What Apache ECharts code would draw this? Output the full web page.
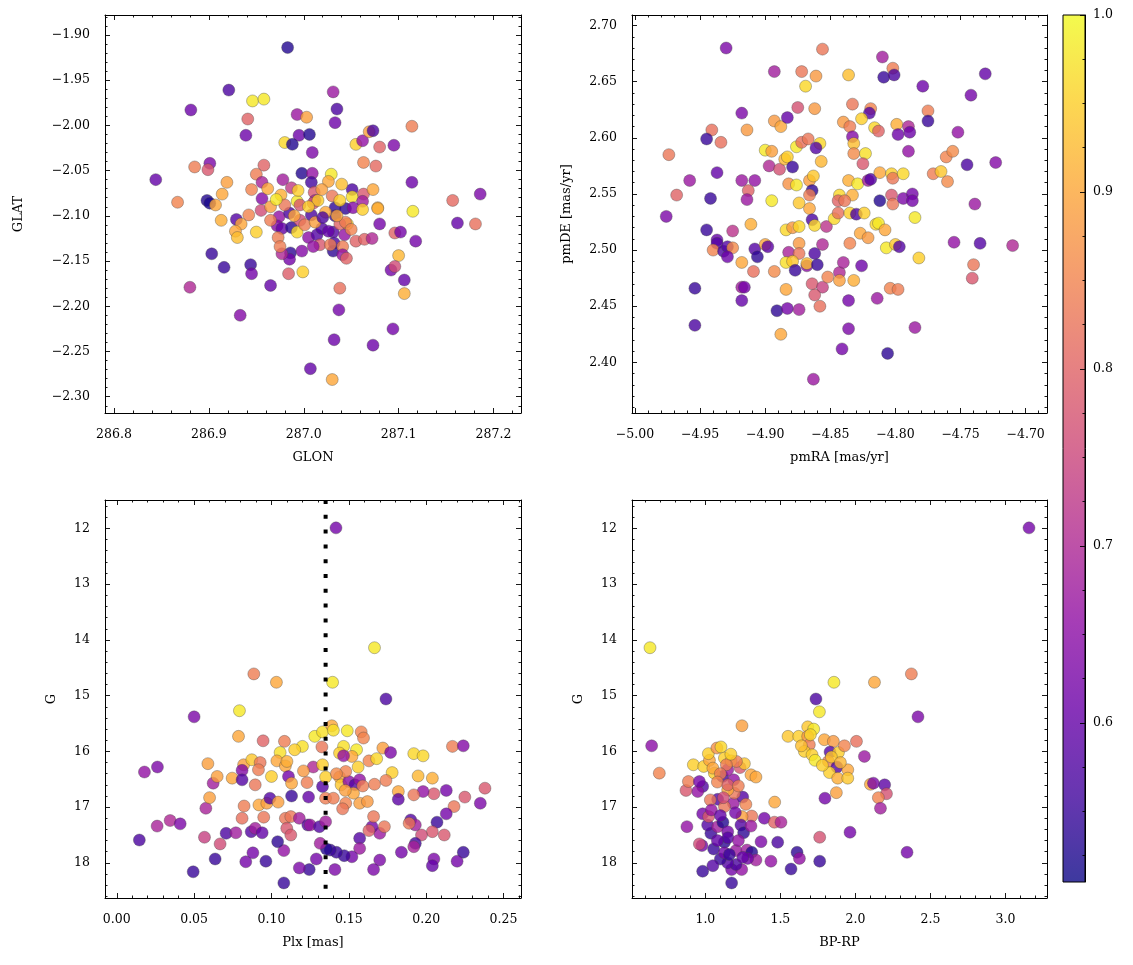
<!DOCTYPE html>
<html><head><meta charset="utf-8">
<script src="https://cdn.jsdelivr.net/npm/echarts@6/dist/echarts.min.js"></script>
<style>html,body{margin:0;padding:0;background:#fff}#c{width:1133px;height:965px}</style>
</head><body><div id="c"></div>
<script>
// ---------------- data: [x, y, membership probability] ----------------
const skyPos = [
[286.983,-1.914,.53],[286.921,-1.961,.57],[286.946,-1.973,.98],[286.958,-1.971,.98],[287.031,-1.963,.67],[286.881,-1.983,.61],[287.035,-1.982,.57],[287.033,-1.997,.61],[286.941,-1.993,.80],[286.993,-1.988,.67],[287.003,-1.991,.89],[286.939,-2.011,.61],[286.995,-2.011,.61],[287.006,-2.010,.53],[286.980,-2.019,.96],[286.988,-2.021,.53],[287.009,-2.030,.63],[287.114,-2.001,.84],[287.055,-2.021,.95],[287.062,-2.017,.66],[287.069,-2.007,.89],[287.073,-2.006,.57],[287.080,-2.024,.80],[287.095,-2.022,.63],[286.901,-2.042,.63],[286.899,-2.049,.78],[286.885,-2.046,.84],[286.958,-2.044,.80],[286.950,-2.054,.84],[287.063,-2.041,.85],[287.076,-2.045,.81],[286.844,-2.060,.60],[286.919,-2.063,.89],[286.945,-2.071,.85],[286.956,-2.063,.69],[286.978,-2.060,.68],[286.998,-2.053,.53],[287.009,-2.053,.66],[287.008,-2.063,.56],[287.029,-2.054,.98],[287.026,-2.062,.90],[287.114,-2.063,.61],[286.914,-2.076,.90],[286.867,-2.085,.85],[286.898,-2.083,.53],[286.901,-2.086,.52],[286.907,-2.088,.90],[286.956,-2.081,.64],[286.976,-2.077,.91],[286.987,-2.069,.73],[286.993,-2.084,.98],[287.011,-2.074,.78],[287.012,-2.083,.68],[287.030,-2.078,.83],[287.051,-2.071,.57],[287.051,-2.079,.97],[287.063,-2.076,.78],[287.062,-2.084,.68],[287.073,-2.071,.90],[287.078,-2.091,.91],[287.157,-2.083,.81],[287.186,-2.076,.63],[287.115,-2.095,.98],[287.033,-2.091,.54],[287.044,-2.092,.54],
[286.913,-2.105,.91],[286.929,-2.104,.58],[286.934,-2.109,.90],[286.942,-2.099,.85],[286.928,-2.117,.90],[286.930,-2.124,.93],[286.955,-2.094,.76],[286.965,-2.090,.89],[286.974,-2.101,.66],[286.985,-2.097,.57],[286.972,-2.111,.64],[286.977,-2.114,.60],[286.987,-2.113,.54],[286.993,-2.118,.96],[286.973,-2.124,.84],[286.996,-2.105,.76],[287.008,-2.099,.57],[287.010,-2.086,.78],[287.005,-2.124,.65],[287.014,-2.121,.58],[287.019,-2.114,.58],[287.031,-2.118,.58],[287.033,-2.100,.55],[287.052,-2.091,.64],[287.046,-2.109,.95],[287.043,-2.121,.66],[287.038,-2.109,.80],[287.017,-2.132,.78],[287.010,-2.134,.66],[287.032,-2.130,.57],[287.031,-2.139,.54],[287.041,-2.134,.84],[287.041,-2.143,.66],[287.045,-2.147,.80],[287.062,-2.093,.95],[287.078,-2.092,.91],[287.080,-2.109,.62],[287.055,-2.128,.80],[287.064,-2.126,.80],[287.072,-2.125,.70],[287.096,-2.119,.80],[287.102,-2.118,.62],[287.118,-2.128,.62],[287.100,-2.144,.92],[287.162,-2.108,.60],[287.181,-2.109,.82],[286.986,-2.141,.54],[286.985,-2.148,.62],[286.977,-2.142,.70],[286.975,-2.134,.84],[286.998,-2.139,.64],[286.903,-2.142,.55],[286.916,-2.157,.55],[286.944,-2.154,.55],[286.945,-2.164,.62],[286.965,-2.177,.60],[286.984,-2.164,.79],[286.999,-2.162,.95],[286.880,-2.179,.70],[286.933,-2.210,.64],[287.038,-2.180,.82],[287.037,-2.204,.62],[287.032,-2.237,.61],[287.007,-2.269,.60],[287.030,-2.281,.90],[287.073,-2.243,.61],[287.094,-2.225,.62],[287.092,-2.160,.62],[287.096,-2.156,.76],[287.106,-2.171,.60],[287.106,-2.186,.91],
[286.996,-2.088,.78],[287.015,-2.083,.95],[287.023,-2.096,.90],[287.001,-2.110,.84],[286.980,-2.088,.83],[287.038,-2.083,.95],[287.012,-2.107,.89],[286.994,-2.072,.95],[287.019,-2.071,.89],[287.044,-2.107,.84],[286.971,-2.082,.98],[287.028,-2.132,.84],[287.020,-2.102,.57],[287.026,-2.117,.60],
[286.990,-2.100,.90],[287.005,-2.090,.95],[287.035,-2.100,.90],[286.965,-2.105,.84],[286.950,-2.118,.95],[287.050,-2.115,.85],[286.962,-2.070,.90],[287.040,-2.065,.93]
];
const properMotion = [
[-4.930,2.680,.63],[-4.856,2.679,.83],[-4.810,2.672,.68],[-4.802,2.662,.84],[-4.809,2.654,.55],[-4.801,2.656,.57],[-4.893,2.659,.68],[-4.872,2.659,.83],[-4.861,2.655,.88],[-4.869,2.646,.96],[-4.836,2.656,.93],[-4.779,2.646,.61],[-4.731,2.657,.60],[-4.742,2.638,.62],[-4.918,2.622,.63],[-4.875,2.627,.77],[-4.862,2.626,.88],[-4.833,2.630,.83],[-4.819,2.626,.85],[-4.820,2.622,.58],[-4.775,2.624,.84],[-4.775,2.615,.55],[-4.941,2.607,.82],[-4.934,2.596,.82],[-4.945,2.599,.55],[-4.974,2.585,.83],[-4.914,2.607,.88],[-4.893,2.615,.88],[-4.888,2.610,.90],[-4.883,2.618,.60],[-4.840,2.614,.88],[-4.835,2.610,.84],[-4.826,2.617,.95],[-4.816,2.609,.96],[-4.813,2.606,.80],[-4.799,2.612,.91],[-4.790,2.610,.70],[-4.798,2.603,.61],[-4.789,2.605,.61],[-4.833,2.601,.64],[-4.832,2.595,.93],[-4.752,2.605,.66],[-4.900,2.589,.98],[-4.895,2.588,.89],[-4.876,2.592,.98],[-4.872,2.596,.82],[-4.867,2.599,.83],[-4.858,2.595,.96],[-4.861,2.591,.58],[-4.832,2.586,.86],[-4.823,2.586,.97],[-4.825,2.577,.78],[-4.790,2.588,.66],[-4.761,2.583,.85],[-4.756,2.588,.86],[-4.745,2.576,.57],[-4.723,2.578,.64],[-4.897,2.575,.70],[-4.889,2.572,.77],[-4.885,2.581,.92],[-4.883,2.583,.95],[-4.879,2.574,.55],[-4.857,2.579,.92],[-4.937,2.569,.60],[-4.958,2.562,.67],[-4.968,2.549,.80],[-4.942,2.546,.55],[-4.918,2.562,.67],[-4.908,2.562,.66],[-4.913,2.553,.80],[-4.914,2.545,.67],[-4.895,2.544,.98],[-4.882,2.559,.87],[-4.876,2.558,.98],[-4.866,2.562,.89],[-4.863,2.566,.94],[-4.864,2.553,.54],[-4.866,2.549,.84],[-4.836,2.562,.91],[-4.829,2.559,.98],[-4.833,2.549,.91],[-4.843,2.549,.96],[-4.844,2.544,.80],[-4.839,2.544,.83],[-4.821,2.562,.68],[-4.819,2.563,.58],[-4.812,2.569,.90],[-4.803,2.568,.95],[-4.802,2.564,.83],[-4.794,2.568,.96],[-4.812,2.544,.53],[-4.803,2.549,.78],[-4.802,2.541,.83],[-4.794,2.546,.63],[-4.787,2.550,.62],[-4.787,2.544,.62],[-4.771,2.568,.84],[-4.765,2.570,.94],[-4.760,2.561,.86],[-4.739,2.541,.67],[-4.866,2.537,.90],
[-4.976,2.530,.63],[-4.945,2.518,.55],[-4.925,2.517,.72],[-4.911,2.523,.91],[-4.937,2.509,.60],[-4.937,2.506,.58],[-4.940,2.500,.85],[-4.932,2.499,.57],[-4.929,2.503,.58],[-4.925,2.502,.86],[-4.929,2.494,.61],[-4.908,2.501,.58],[-4.900,2.505,.90],[-4.898,2.503,.59],[-4.906,2.494,.54],[-4.918,2.489,.90],[-4.909,2.481,.82],[-4.893,2.481,.86],[-4.954,2.466,.55],[-4.954,2.433,.57],[-4.918,2.467,.68],[-4.916,2.467,.62],[-4.918,2.455,.60],[-4.891,2.446,.54],[-4.883,2.448,.62],[-4.874,2.447,.68],[-4.888,2.425,.90],[-4.884,2.465,.90],[-4.884,2.518,.96],[-4.879,2.520,.88],[-4.874,2.521,.96],[-4.874,2.506,.88],[-4.882,2.498,.69],[-4.874,2.497,.83],[-4.884,2.489,.97],[-4.879,2.490,.94],[-4.877,2.482,.55],[-4.868,2.486,.65],[-4.868,2.488,.93],[-4.862,2.497,.57],[-4.860,2.487,.55],[-4.856,2.505,.70],[-4.853,2.521,.72],[-4.864,2.527,.57],[-4.862,2.522,.96],[-4.847,2.528,.96],[-4.844,2.533,.82],[-4.835,2.533,.95],[-4.830,2.532,.57],[-4.824,2.533,.95],[-4.864,2.470,.78],[-4.856,2.467,.74],[-4.862,2.460,.78],[-4.858,2.450,.82],[-4.852,2.476,.85],[-4.843,2.480,.70],[-4.840,2.489,.69],[-4.843,2.473,.89],[-4.832,2.473,.91],[-4.826,2.486,.61],[-4.835,2.506,.85],[-4.836,2.455,.62],[-4.836,2.430,.63],[-4.841,2.412,.62],[-4.863,2.385,.67],[-4.806,2.408,.54],[-4.814,2.457,.67],[-4.804,2.466,.85],[-4.798,2.465,.84],[-4.785,2.431,.67],[-4.827,2.515,.90],[-4.821,2.511,.88],[-4.815,2.523,.96],[-4.813,2.524,.98],[-4.808,2.518,.90],[-4.807,2.502,.98],[-4.800,2.505,.94],[-4.797,2.503,.58],[-4.785,2.529,.98],[-4.782,2.493,.95],[-4.755,2.507,.66],[-4.735,2.506,.58],[-4.710,2.504,.70],[-4.740,2.487,.83],[-4.741,2.475,.78],[-4.874,2.542,.94]
];
const plxMag = [
[0.1417,11.99,.62],[0.1666,14.14,.98],[0.0886,14.61,.84],[0.1032,14.76,.90],[0.1395,14.76,.98],[0.1740,15.06,.57],[0.0500,15.38,.63],[0.0793,15.27,.98],[0.0787,15.73,.90],[0.0946,15.81,.80],[0.1084,15.82,.84],[0.1280,15.73,.98],[0.1330,15.65,.97],[0.1390,15.54,.90],[0.1400,15.62,.97],[0.1490,15.63,.98],[0.1580,15.65,.85],[0.1595,15.76,.85],[0.1200,15.91,.97],[0.1150,15.97,.95],[0.1056,16.02,.97],[0.1326,15.92,.83],[0.1466,15.91,.97],[0.1440,16.03,.95],[0.1550,15.97,.98],[0.1520,16.09,.90],[0.1466,16.08,.66],[0.1720,15.94,.89],[0.1770,16.02,.63],[0.1920,16.04,.96],[0.1980,16.08,.96],[0.2170,15.91,.84],[0.2240,15.90,.64],[0.0589,16.22,.89],[0.0820,16.24,.89],[0.0873,16.15,.94],[0.0927,16.20,.83],[0.0916,16.33,.84],[0.1035,16.17,.90],[0.1090,16.26,.90],[0.1100,16.18,.91],[0.1000,16.45,.95],[0.1270,16.28,.70],[0.1330,16.24,.95],[0.1207,16.35,.88],[0.1110,16.45,.62],[0.1130,16.57,.90],[0.1230,16.56,.84],[0.1330,16.63,.58],[0.1350,16.46,.95],[0.1440,16.46,.90],[0.1450,16.60,.94],[0.1500,16.54,.65],[0.1540,16.60,.58],[0.1570,16.51,.66],[0.1590,16.62,.84],[0.1560,16.28,.95],[0.1480,16.36,.85],[0.1420,16.40,.86],[0.1630,16.17,.85],[0.1680,16.13,.96],[0.1780,16.38,.95],[0.1740,16.52,.84],[0.1666,16.59,.84],[0.1820,16.72,.90],[0.1820,16.86,.59],[0.1948,16.44,.92],[0.2040,16.48,.91],[0.2380,16.66,.78],[0.2350,16.93,.63],[0.2250,16.82,.78],[0.2130,16.70,.62],[0.2050,16.76,.78],[0.1980,16.72,.66],[0.1920,16.78,.83],[0.2180,16.99,.83],[0.2130,17.12,.62],[0.2070,17.27,.55],[0.2117,17.50,.78],[0.2040,17.44,.78],[0.1970,17.50,.76],[0.1900,17.23,.58],[0.1930,17.32,.68],[0.1890,17.29,.83],[0.1930,17.65,.56],[0.1920,17.71,.69],[0.1840,17.81,.62],[0.2240,17.81,.55],[0.2200,17.97,.62],[0.2050,17.93,.63],[0.2040,18.05,.60],[0.1700,17.95,.63],[0.1660,18.12,.63],[0.1700,17.47,.67],[0.1650,17.35,.62],[0.1660,17.17,.83],[0.1630,17.42,.80],[0.1570,17.56,.58],[0.1570,17.74,.67],[0.1520,17.89,.62],[0.1470,17.87,.55],[0.1420,17.81,.55],[0.1380,17.77,.55],[0.1355,17.75,.53],[0.1315,17.65,.68],[0.1290,17.93,.62],[0.1410,18.12,.63],[0.1244,18.12,.55],[0.1180,18.09,.63],[0.1080,18.36,.55],[0.1080,17.78,.66],[0.1040,17.62,.54],[0.0964,17.97,.55],[0.0834,17.98,.62],[0.0880,17.82,.62],[0.0636,17.93,.55],[0.0494,18.16,.55],[0.0146,17.59,.57],[0.0261,17.34,.69],[0.0345,17.24,.70],[0.0410,17.30,.63],[0.0179,16.37,.66],[0.0263,16.28,.63],[0.0576,17.02,.69],[0.0600,16.83,.89],[0.0623,16.57,.68],[0.0649,16.45,.89],[0.0567,17.54,.74],[0.0668,17.66,.76],[0.0707,17.47,.57],[0.0770,17.46,.68],[0.0746,16.48,.90],[0.0810,16.34,.64],[0.0810,16.51,.58],[0.0895,16.60,.83],[0.0823,16.98,.84],[0.0810,17.20,.82],[0.0919,16.96,.90],[0.0970,16.93,.89],[0.0990,16.84,.58],[0.1043,16.91,.89],[0.0950,17.18,.83],[0.0869,17.44,.58],[0.0895,17.38,.68],[0.0940,17.46,.60],[0.1130,16.80,.55],[0.1240,16.82,.60],[0.1090,17.20,.83],[0.1125,17.17,.83],[0.1099,17.38,.78],[0.1125,17.50,.78],[0.1180,17.20,.68],[0.1235,17.32,.58],[0.1250,17.32,.67],[0.1310,17.35,.58],[0.1350,17.26,.68],[0.1350,16.84,.84],[0.1400,16.84,.84],[0.1480,16.93,.85],[0.1460,17.03,.83],[0.1570,16.93,.89],[0.1620,16.90,.88],[0.1530,16.75,.90],[0.1477,16.70,.89],[0.1730,17.35,.83]
];
const cmd = [
[3.157,11.99,.62],[0.631,14.14,.98],[1.857,14.76,.98],[2.127,14.76,.90],[2.373,14.61,.84],[1.737,15.06,.57],[1.760,15.29,.98],[2.417,15.38,.63],[1.244,15.54,.89],[0.642,15.90,.65],[0.693,16.39,.85],[1.551,15.73,.94],[1.622,15.73,.95],[1.682,15.56,.94],[1.722,15.60,.98],[1.682,15.73,.88],[1.693,15.88,.84],[1.660,16.00,.95],[1.711,16.06,.95],[1.731,16.16,.98],[1.793,15.79,.90],[1.853,15.82,.88],[1.831,16.01,.58],[1.887,16.02,.95],[1.927,15.90,.85],[2.007,15.82,.82],[1.820,16.18,.84],[1.877,16.28,.58],[1.827,16.38,.95],[1.882,16.48,.91],[1.949,16.33,.90],[1.949,16.48,.94],[2.060,16.09,.67],[2.100,16.59,.90],[2.120,16.57,.63],[2.195,16.60,.59],[2.207,16.76,.77],[2.153,16.83,.85],[2.167,17.02,.68],[1.873,16.74,.89],[1.797,16.84,.62],[1.964,17.45,.62],[1.762,17.54,.77],[2.344,17.81,.62],[1.762,17.97,.55],[1.611,17.81,.54],[1.627,17.92,.66],[1.571,18.11,.55],[1.437,17.97,.66],[1.482,17.63,.57],[1.371,17.62,.63],[1.462,16.91,.90],[1.393,17.20,.62],[1.460,17.27,.80],[1.504,17.27,.69],[1.309,17.16,.83],[1.244,17.17,.89],[0.877,17.35,.66],[0.982,18.15,.55],[1.175,18.36,.55],[1.175,18.12,.62],[1.242,18.12,.66],[1.204,18.03,.57],[1.149,18.00,.58],[1.100,17.93,.55],[1.055,17.75,.55],[0.977,17.69,.62],[0.960,17.66,.76],[1.127,17.63,.54],[1.127,17.82,.62],[1.204,17.78,.67],[1.277,17.77,.68],[1.309,17.81,.53],[1.337,17.95,.68],[1.282,17.92,.62],[1.037,17.47,.55],[1.015,17.32,.58],[1.082,17.35,.68],[1.117,17.27,.53],[1.149,17.44,.62],[1.237,17.32,.58],[1.255,17.46,.54],[1.304,17.34,.67],[0.982,17.12,.62],[1.022,17.17,.78],[1.082,16.86,.58],[1.033,16.87,.83],[1.187,16.93,.67],[1.249,16.82,.58],[1.127,16.99,.83],[1.193,16.75,.83],[1.149,16.69,.90],[0.982,16.63,.58],[0.949,16.72,.66],[0.871,16.70,.78],[0.887,16.54,.84],[0.960,16.54,.62],[1.115,16.45,.57],[1.189,16.51,.66],[1.231,16.29,.78],[1.260,16.22,.94],[1.149,16.33,.67],[1.060,16.39,.95],[1.304,16.42,.90],[1.337,16.46,.90],[0.920,16.24,.95],[0.989,16.27,.95],[1.027,16.16,.90],[1.020,16.04,.95],[1.077,15.94,.87],[1.104,15.92,.96],[1.127,16.12,.95],[1.171,16.17,.95],[1.207,16.18,.84],[1.140,16.24,.84],
[1.050,16.30,.90],[1.100,16.40,.84],[1.170,16.05,.95],[1.080,16.55,.85],[1.150,16.60,.80],[1.220,16.62,.84],[1.120,16.83,.76],[1.270,16.95,.85],[1.040,17.05,.66],[1.100,17.15,.60],[1.200,17.10,.62],[1.150,17.55,.58],[1.220,17.60,.66],[1.080,17.60,.60],[1.250,17.90,.60],[1.160,17.85,.55],[1.050,18.05,.58],
[1.780,16.25,.95],[1.840,16.10,.94],[1.900,16.20,.92],[1.700,15.70,.96],[1.640,15.90,.93]
];
const plxCut = 0.135;

// ---------------- tick labels ----------------
const glonTicks = [286.8, 286.9, 287.0, 287.1, 287.2];
const glatTicks = [-2.30, -2.25, -2.20, -2.15, -2.10, -2.05, -2.00, -1.95, -1.90];
const pmraTicks = [-5.00, -4.95, -4.90, -4.85, -4.80, -4.75, -4.70];
const pmdeTicks = [2.40, 2.45, 2.50, 2.55, 2.60, 2.65, 2.70];
const plxTicks = [0.00, 0.05, 0.10, 0.15, 0.20, 0.25];
const gTicks = [12, 13, 14, 15, 16, 17, 18];
const bprpTicks = [1.0, 1.5, 2.0, 2.5, 3.0];
const probTicks = [0.6, 0.7, 0.8, 0.9, 1.0];

const plasma = ['#0d0887','#41049d','#6a00a8','#8f0da4','#b12a90','#cc4778','#e16462','#f2844b','#fca636','#fcce25','#f0f921'];
const FONT = 'DejaVu Serif';
const PMIN = 0.51, PMAX = 1.0;
const G_MIN = 11.49, G_MAX = 18.63;

function minorTicks(min, max, step, majors) {
  const out = [];
  const start = Math.ceil(min / step - 1e-9);
  for (let k = start; k * step <= max + 1e-9; k++) {
    const v = Math.round(k * step * 1e6) / 1e6;
    if (!majors.some(m => Math.abs(m - v) < 1e-7)) out.push(v);
  }
  return out;
}
const f1 = v => (v < 0 ? '\u2212' : '') + Math.abs(v).toFixed(1);
const f2 = v => (v < 0 ? '\u2212' : '') + Math.abs(v).toFixed(2);
const f0 = v => String(Math.round(v));

function axisSet(kind, gi, o) {
  const pos = kind === 'x' ? ['bottom', 'top'] : ['left', 'right'];
  const base = {type: 'value', gridIndex: gi, min: o.min, max: o.max, inverse: !!o.inverse, splitLine: {show: false}, z: 5};
  const tick = {color: '#000', width: 0.9};
  const minors = minorTicks(o.min, o.max, o.minor, o.major);
  const arr = [];
  pos.forEach((p, side) => {
    arr.push(Object.assign({}, base, {
      position: p,
      name: side === 0 ? o.name : '', nameLocation: 'middle', nameGap: o.nameGap,
      nameTextStyle: {fontFamily: FONT, fontSize: 13, color: '#000'},
      axisLine: {show: true, onZero: false, lineStyle: {color: '#000', width: 1}},
      axisTick: {show: true, inside: true, length: 5, customValues: o.major, lineStyle: tick},
      axisLabel: {show: side === 0, customValues: o.major, formatter: o.fmt, margin: o.margin,
                  fontFamily: FONT, fontSize: 12.5, color: '#000'}
    }));
    arr.push(Object.assign({}, base, {
      position: p,
      axisLine: {show: false, onZero: false},
      axisTick: {show: true, inside: true, length: 2.5, customValues: minors, lineStyle: tick},
      axisLabel: {show: false}
    }));
  });
  return arr;
}

const grids = [
  {left: 105, top: 15, width: 416, height: 398},
  {left: 632, top: 15, width: 415, height: 398},
  {left: 105, top: 500, width: 416, height: 398},
  {left: 632, top: 500, width: 415, height: 398},
  {left: 1063, top: 15, width: 22, height: 867}
];

const xAxes = [].concat(
  axisSet('x', 0, {min: 286.7905, max: 287.229, major: glonTicks, minor: 0.02, fmt: f1, name: 'GLON', nameGap: 38, margin: 15}),
  axisSet('x', 1, {min: -5.0023, max: -4.6836, major: pmraTicks, minor: 0.01, fmt: f2, name: 'pmRA [mas/yr]', nameGap: 38, margin: 15}),
  axisSet('x', 2, {min: -0.0076, max: 0.2613, major: plxTicks, minor: 0.01, fmt: f2, name: 'Plx [mas]', nameGap: 38, margin: 15}),
  axisSet('x', 3, {min: 0.511, max: 3.277, major: bprpTicks, minor: 0.1, fmt: f1, name: 'BP-RP', nameGap: 38, margin: 15}),
  [{type: 'value', gridIndex: 4, min: 0, max: 1, show: false}]
);
const yAxes = [].concat(
  axisSet('y', 0, {min: -2.318, max: -1.878, major: glatTicks, minor: 0.01, fmt: f2, name: 'GLAT', nameGap: 80, margin: 15}),
  axisSet('y', 1, {min: 2.3549, max: 2.7094, major: pmdeTicks, minor: 0.01, fmt: f2, name: 'pmDE [mas/yr]', nameGap: 59, margin: 15}),
  axisSet('y', 2, {min: G_MIN, max: G_MAX, inverse: true, major: gTicks, minor: 0.2, fmt: f0, name: 'G', nameGap: 47, margin: 15}),
  axisSet('y', 3, {min: G_MIN, max: G_MAX, inverse: true, major: gTicks, minor: 0.2, fmt: f0, name: 'G', nameGap: 47, margin: 15}),
  [
    {type: 'value', gridIndex: 4, position: 'right', min: PMIN, max: PMAX, z: 5, splitLine: {show: false},
     axisLine: {show: true, onZero: false, lineStyle: {color: '#000', width: 1}},
     axisTick: {show: true, inside: true, length: 5, customValues: probTicks, lineStyle: {color: '#000', width: 0.9}},
     axisLabel: {customValues: probTicks, formatter: f1, margin: 8, fontFamily: FONT, fontSize: 12.5, color: '#000'}},
    {type: 'value', gridIndex: 4, position: 'right', min: PMIN, max: PMAX, z: 5, splitLine: {show: false},
     axisLine: {show: false, onZero: false},
     axisTick: {show: true, inside: true, length: 2.5, customValues: minorTicks(PMIN, PMAX, 0.025, probTicks), lineStyle: {color: '#000', width: 0.9}},
     axisLabel: {show: false}}
  ]
);

function scatter(data, gi) {
  return {
    type: 'scatter', xAxisIndex: gi * 4, yAxisIndex: gi * 4, data: data,
    symbolSize: 12, z: 2,
    itemStyle: {opacity: 0.8, borderColor: 'rgba(70,70,70,0.9)', borderWidth: 0.5}
  };
}

const series = [
  scatter(skyPos, 0), scatter(properMotion, 1), scatter(plxMag, 2), scatter(cmd, 3),
  {
    type: 'custom', xAxisIndex: 16, yAxisIndex: 16, z: 1, silent: true,
    data: [[PMIN, PMAX]],
    renderItem: function (params, api) {
      const tl = api.coord([0, api.value(1)]);
      const br = api.coord([1, api.value(0)]);
      const stops = plasma.map((c, i) => ({offset: i / (plasma.length - 1), color: c}));
      return {
        type: 'rect',
        shape: {x: tl[0], y: tl[1], width: br[0] - tl[0], height: br[1] - tl[1]},
        style: {fill: new echarts.graphic.LinearGradient(0, 1, 0, 0, stops), opacity: 0.8}
      };
    }
  },
  {
    type: 'custom', xAxisIndex: 16, yAxisIndex: 16, z: 6, silent: true,
    data: [[PMIN, PMAX]],
    renderItem: function (params, api) {
      const tl = api.coord([0, api.value(1)]);
      const br = api.coord([1, api.value(0)]);
      return {
        type: 'rect',
        shape: {x: tl[0], y: tl[1], width: br[0] - tl[0], height: br[1] - tl[1]},
        style: {fill: 'none', stroke: '#000', lineWidth: 1}
      };
    }
  },
  {
    type: 'line', xAxisIndex: 8, yAxisIndex: 8, z: 4, silent: true,
    data: [[plxCut, G_MIN], [plxCut, G_MAX]],
    showSymbol: false, symbol: 'none',
    lineStyle: {color: '#000', width: 4, type: [4, 10.8], cap: 'butt'}
  }
];

const chart = echarts.init(document.getElementById('c'), null, {renderer: 'canvas'});
chart.setOption({
  animation: false,
  backgroundColor: '#fff',
  grid: grids,
  xAxis: xAxes,
  yAxis: yAxes,
  visualMap: {
    show: false, type: 'continuous', min: PMIN, max: PMAX, dimension: 2,
    seriesIndex: [0, 1, 2, 3], inRange: {color: plasma}
  },
  series: series
});
</script>
</body></html>
